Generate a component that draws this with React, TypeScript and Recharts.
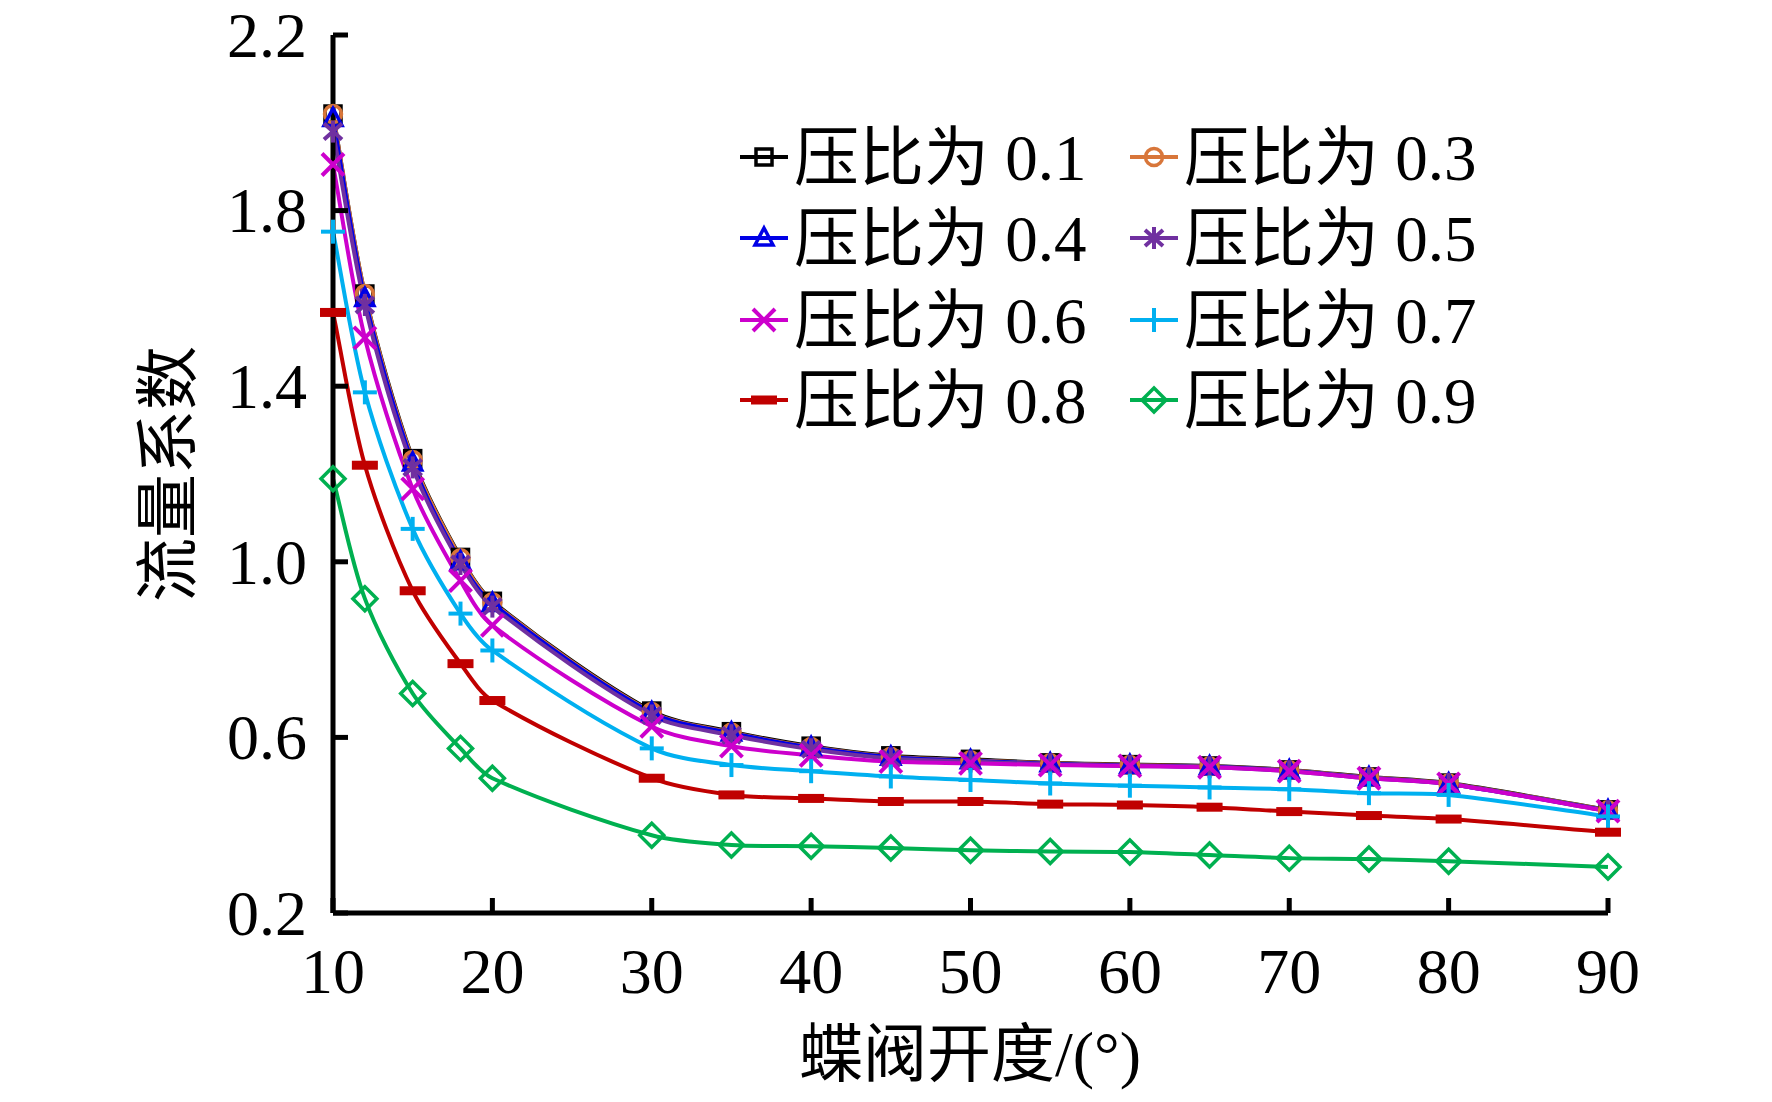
import React from 'react';
import { LineChart, Line, XAxis, YAxis, Legend } from 'recharts';

const openings = [10, 12, 15, 18, 20, 30, 35, 40, 45, 50, 55, 60, 65, 70, 75, 80, 90];
const ratio01 = [2.02, 1.61, 1.235, 1.01, 0.91, 0.66, 0.613, 0.58, 0.558, 0.55, 0.542, 0.538, 0.535, 0.526, 0.51, 0.496, 0.435];
const ratio03 = [2.02, 1.61, 1.232, 1.008, 0.908, 0.658, 0.611, 0.578, 0.556, 0.548, 0.541, 0.537, 0.534, 0.525, 0.509, 0.495, 0.434];
const ratio04 = [2.01, 1.6, 1.225, 1.0, 0.905, 0.656, 0.61, 0.577, 0.555, 0.547, 0.54, 0.536, 0.533, 0.524, 0.508, 0.494, 0.433];
const ratio05 = [1.98, 1.585, 1.215, 0.995, 0.898, 0.65, 0.605, 0.573, 0.552, 0.545, 0.539, 0.535, 0.532, 0.523, 0.507, 0.494, 0.432];
const ratio06 = [1.905, 1.51, 1.166, 0.957, 0.855, 0.625, 0.58, 0.559, 0.545, 0.541, 0.537, 0.535, 0.532, 0.523, 0.507, 0.494, 0.432];
const ratio07 = [1.752, 1.386, 1.075, 0.882, 0.798, 0.575, 0.537, 0.523, 0.511, 0.503, 0.495, 0.49, 0.486, 0.482, 0.473, 0.469, 0.42];
const ratio08 = [1.568, 1.22, 0.934, 0.768, 0.684, 0.507, 0.469, 0.461, 0.454, 0.454, 0.448, 0.446, 0.441, 0.431, 0.422, 0.414, 0.384];
const ratio09 = [1.189, 0.916, 0.7, 0.575, 0.507, 0.377, 0.355, 0.352, 0.348, 0.343, 0.34, 0.339, 0.332, 0.325, 0.323, 0.318, 0.305];

const xTicks = [10, 20, 30, 40, 50, 60, 70, 80, 90];
const yTicks = [0.2, 0.6, 1.0, 1.4, 1.8, 2.2];

const seriesNames = ['压比为 0.1', '压比为 0.3', '压比为 0.4', '压比为 0.5', '压比为 0.6', '压比为 0.7', '压比为 0.8', '压比为 0.9'];
const seriesKeys = ['r01', 'r03', 'r04', 'r05', 'r06', 'r07', 'r08', 'r09'];
const seriesValues = [ratio01, ratio03, ratio04, ratio05, ratio06, ratio07, ratio08, ratio09];
const seriesColors = ['#000000', '#D8763A', '#0000E6', '#7030A0', '#CC00CC', '#00B0F0', '#C00000', '#00B050'];
const seriesMarkers = ['square', 'circle', 'triangle', 'star', 'x', 'plus', 'dash', 'diamond'];

const data = openings.map((x, i) => {
  const row: Record<string, number> = { x };
  seriesKeys.forEach((k, s) => {
    row[k] = seriesValues[s][i];
  });
  return row;
});

// Smoothed line in the spirit of a spreadsheet "smoothed line":
// tangent direction from neighbours, control arm scaled by each segment's own length.
const TENSION = 0.3;
const smoothCurve = (context: any) => {
  let pts: number[][] = [];
  return {
    areaStart() {},
    areaEnd() {},
    lineStart() {
      pts = [];
    },
    lineEnd() {
      if (!pts.length) return;
      const n = pts.length;
      const dirs = pts.map((p, i) => {
        const a = pts[Math.max(i - 1, 0)];
        const b = pts[Math.min(i + 1, n - 1)];
        const dx = b[0] - a[0];
        const dy = b[1] - a[1];
        const len = Math.hypot(dx, dy) || 1;
        return [dx / len, dy / len];
      });
      context.moveTo(pts[0][0], pts[0][1]);
      for (let i = 0; i < n - 1; i++) {
        const p1 = pts[i];
        const p2 = pts[i + 1];
        const seg = Math.hypot(p2[0] - p1[0], p2[1] - p1[1]);
        const arm = seg * TENSION;
        context.bezierCurveTo(
          p1[0] + dirs[i][0] * arm,
          p1[1] + dirs[i][1] * arm,
          p2[0] - dirs[i + 1][0] * arm,
          p2[1] - dirs[i + 1][1] * arm,
          p2[0],
          p2[1]
        );
      }
    },
    point(x: number, y: number) {
      pts.push([+x, +y]);
    },
  };
};

const FONT = '"Liberation Serif", "Times New Roman", "Noto Sans CJK SC", serif';
const FS = 64;
const W = 1756;
const H = 1094;
const TOP = 35;
const Y_TICK_MARGIN = 26;
const X_TICK_MARGIN = 20;
const TICK_LEN = 15;

function Marker({ kind, color, cx, cy }: { kind: string; color: string; cx: number; cy: number }) {
  const sw = 3.5;
  switch (kind) {
    case 'square':
      return <rect x={cx - 8} y={cy - 8} width={16} height={16} fill="none" stroke={color} strokeWidth={sw} />;
    case 'circle':
      return <circle cx={cx} cy={cy} r={8.5} fill="none" stroke={color} strokeWidth={sw} />;
    case 'triangle':
      return (
        <path
          d={`M${cx},${cy - 10} L${cx + 9},${cy + 7} L${cx - 9},${cy + 7} Z`}
          fill="none"
          stroke={color}
          strokeWidth={sw}
        />
      );
    case 'star':
      return (
        <g stroke={color} strokeWidth={4}>
          <line x1={cx} y1={cy - 11} x2={cx} y2={cy + 11} />
          <line x1={cx - 9} y1={cy - 8} x2={cx + 9} y2={cy + 8} />
          <line x1={cx - 9} y1={cy + 8} x2={cx + 9} y2={cy - 8} />
        </g>
      );
    case 'x':
      return (
        <g stroke={color} strokeWidth={4}>
          <line x1={cx - 11} y1={cy - 11} x2={cx + 11} y2={cy + 11} />
          <line x1={cx - 11} y1={cy + 11} x2={cx + 11} y2={cy - 11} />
        </g>
      );
    case 'plus':
      return (
        <g stroke={color} strokeWidth={4}>
          <line x1={cx - 12} y1={cy} x2={cx + 12} y2={cy} />
          <line x1={cx} y1={cy - 12} x2={cx} y2={cy + 12} />
        </g>
      );
    case 'dash':
      return <rect x={cx - 13} y={cy - 4.5} width={26} height={9} fill={color} />;
    case 'diamond':
      return (
        <path
          d={`M${cx},${cy - 12} L${cx + 12},${cy} L${cx},${cy + 12} L${cx - 12},${cy} Z`}
          fill="none"
          stroke={color}
          strokeWidth={sw}
        />
      );
    default:
      return null;
  }
}

const makeDot = (kind: string, color: string) => (props: any) => {
  const { cx, cy, index } = props;
  if (cx == null || cy == null) return <g key={`d-${index}`} />;
  return (
    <g key={`d-${kind}-${index}`}>
      <Marker kind={kind} color={color} cx={cx} cy={cy} />
    </g>
  );
};

const YTick = (props: any) => {
  const { x, y, payload } = props;
  const axisX = x + Y_TICK_MARGIN;
  return (
    <g>
      <line x1={axisX} y1={y} x2={axisX + TICK_LEN} y2={y} stroke="#000" strokeWidth={5} />
      <text x={x} y={y} dy={FS * 0.34} textAnchor="end" fontFamily={FONT} fontSize={FS} fill="#000">
        {Number(payload.value).toFixed(1)}
      </text>
    </g>
  );
};

const XTick = (props: any) => {
  const { x, y, payload } = props;
  const axisY = y - X_TICK_MARGIN;
  return (
    <g>
      <line x1={x} y1={axisY} x2={x} y2={axisY - TICK_LEN} stroke="#000" strokeWidth={5} />
      <text x={x} y={axisY} dy={80} textAnchor="middle" fontFamily={FONT} fontSize={FS} fill="#000">
        {payload.value}
      </text>
    </g>
  );
};

const legendCols = [732, 1122];
const legendRows = [157, 238, 320, 400];

const LegendContent = () => (
  <svg width={W} height={H} style={{ position: 'absolute', left: 0, top: 0, overflow: 'visible' }}>
    {seriesNames.map((name, i) => {
      const col = i % 2;
      const row = Math.floor(i / 2);
      const lx = legendCols[col];
      const ly = legendRows[row];
      return (
        <g key={name}>
          <line x1={lx} y1={ly} x2={lx + 48} y2={ly} stroke={seriesColors[i]} strokeWidth={4} />
          <Marker kind={seriesMarkers[i]} color={seriesColors[i]} cx={lx + 24} cy={ly} />
          <text x={lx + 54} y={ly} dy={FS * 0.36} fontFamily={FONT} fontSize={65} fill="#000">
            {name}
          </text>
        </g>
      );
    })}
  </svg>
);

const XTitle = () => (
  <text x={962} y={1076} textAnchor="middle" fontFamily={FONT} fontSize={FS} fill="#000">
    蝶阀开度/(°)
  </text>
);

const YTitle = () => (
  <text
    x={0}
    y={0}
    transform="translate(182,474) rotate(-90)"
    textAnchor="middle"
    fontFamily={FONT}
    fontSize={FS}
    fill="#000"
  >
    流量系数
  </text>
);

export default function App() {
  return (
    <div style={{ width: W, height: H, position: 'relative', background: '#fff', marginTop: -8 }}>
      <LineChart width={W} height={H} data={data} margin={{ top: TOP, right: 156, left: 0, bottom: 61 }}>
        <XAxis
          dataKey="x"
          type="number"
          domain={[10, 90]}
          ticks={xTicks}
          interval={0}
          height={120}
          tickSize={0}
          tickMargin={X_TICK_MARGIN}
          tickLine={false}
          axisLine={{ stroke: '#000', strokeWidth: 5 }}
          tick={<XTick />}
          label={{ content: () => <XTitle /> }}
        />
        <YAxis
          type="number"
          domain={[0.2, 2.2]}
          ticks={yTicks}
          interval={0}
          width={325}
          tickSize={0}
          tickMargin={Y_TICK_MARGIN}
          tickLine={false}
          axisLine={{ stroke: '#000', strokeWidth: 5 }}
          tick={<YTick />}
          label={{ content: () => <YTitle /> }}
        />
        <Legend
          layout="horizontal"
          verticalAlign="middle"
          align="center"
          content={() => <LegendContent />}
          wrapperStyle={{ left: 0, top: 0, width: W, height: 0, margin: 0 }}
        />
        {seriesKeys.map((k, i) => (
          <Line
            key={k}
            dataKey={k}
            name={seriesNames[i]}
            type={smoothCurve as any}
            stroke={seriesColors[i]}
            strokeWidth={4}
            dot={makeDot(seriesMarkers[i], seriesColors[i])}
            activeDot={false}
            isAnimationActive={false}
          />
        ))}
      </LineChart>
    </div>
  );
}
